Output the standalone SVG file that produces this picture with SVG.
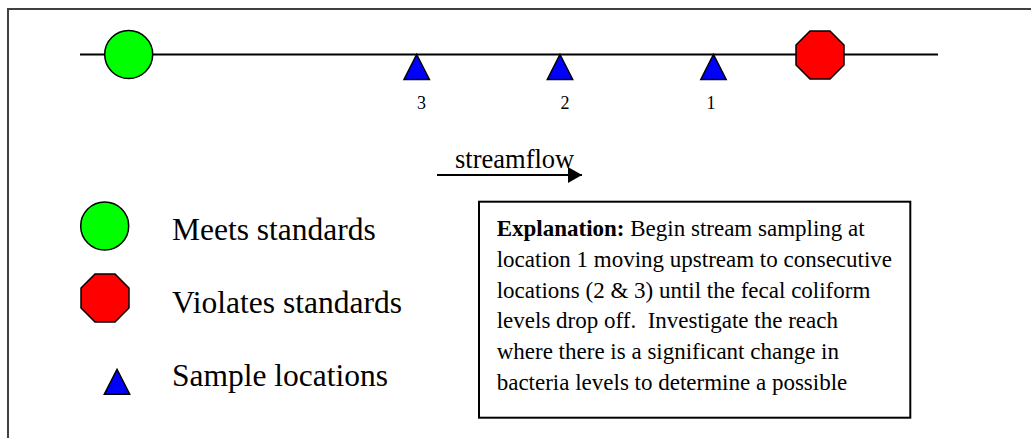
<svg xmlns="http://www.w3.org/2000/svg" width="1031" height="438" viewBox="0 0 1031 438">
<style>
.sym{stroke:#000;stroke-width:1.5}
.g{fill:#00ff00}
.r{fill:#ff0000}
.b{fill:#0000ff}
.t{font-family:"Liberation Serif","Times New Roman",serif;fill:#000}
.leg{font-size:31.5px}
.num{font-size:18px;text-anchor:middle}
.exp{font-size:23px}
</style>
<defs>
<marker id="ah" markerWidth="14" markerHeight="16" refX="14" refY="8" orient="auto" markerUnits="userSpaceOnUse">
<path d="M0,0 L14,8 L0,16 Z" fill="#000"/>
</marker>
<polygon id="oct" points="-10,-24 10,-24 24,-10 24,10 10,24 -10,24 -24,10 -24,-10"/>
<polygon id="tri" points="0,0 12.7,25 -12.7,25"/>
</defs>
<rect x="8" y="9" width="1040" height="440" fill="#fff" stroke="#404040" stroke-width="2"/>
<g id="connectors">
<line x1="80" y1="54.5" x2="938" y2="54.5" stroke="#000" stroke-width="2"/>
<line x1="437" y1="175" x2="582" y2="175" stroke="#000" stroke-width="2" marker-end="url(#ah)"/>
</g>
<g id="meets-node"><circle cx="128.7" cy="54.5" r="24" class="sym g"/></g>
<g id="violates-node"><use href="#oct" x="820" y="55" class="sym r"/></g>
<g id="site3"><use href="#tri" x="416.7" y="54.5" class="sym b"/><text x="421.5" y="108.5" class="t num">3</text></g>
<g id="site2"><use href="#tri" x="560" y="54.5" class="sym b"/><text x="565" y="108.5" class="t num">2</text></g>
<g id="site1"><use href="#tri" x="713.5" y="54.5" class="sym b"/><text x="711" y="108.5" class="t num">1</text></g>
<g id="streamflow-label"><text x="455" y="168" class="t" font-size="26.5">streamflow</text></g>
<g id="legend">
<circle cx="104.7" cy="226" r="24" class="sym g"/>
<text x="172" y="240" class="t leg">Meets standards</text>
<use href="#oct" x="105" y="298" class="sym r"/>
<text x="172" y="312.7" class="t leg">Violates standards</text>
<use href="#tri" x="117" y="369.3" class="sym b"/>
<text x="172" y="386" class="t leg">Sample locations</text>
</g>
<g id="explanation">
<rect x="479" y="201.7" width="431.3" height="216" fill="#fff" stroke="#000" stroke-width="2"/>
<text class="t exp">
<tspan x="496.7" y="236"><tspan font-weight="bold">Explanation:</tspan> Begin stream sampling at</tspan>
<tspan x="496.7" y="266.8">location 1 moving upstream to consecutive</tspan>
<tspan x="496.7" y="297.6">locations (2 &amp; 3) until the fecal coliform</tspan>
<tspan x="496.7" y="328.4" xml:space="preserve">levels drop off.  Investigate the reach</tspan>
<tspan x="496.7" y="359.2">where there is a significant change in</tspan>
<tspan x="496.7" y="390">bacteria levels to determine a possible</tspan>
</text>
</g>
</svg>
